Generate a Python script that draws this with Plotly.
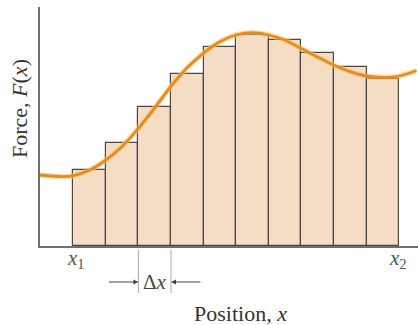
import plotly.graph_objects as go

# Bar (Riemann) heights, midpoint values for each strip of width Δx
bar_mid = [0.5, 1.5, 2.5, 3.5, 4.5, 5.5, 6.5, 7.5, 8.5, 9.5]
bar_height = [76, 102.7, 139.3, 172, 199.3, 211.3, 206, 193.3, 179.3, 167.3]

# Smooth force curve F(x)
curve_x = [-1.02, -0.31, 0.0, 0.51, 1.0, 1.49, 2.0, 2.49, 2.99, 3.48, 3.99, 4.5,
           4.99, 5.52, 5.99, 6.49, 6.99, 7.48, 7.99, 8.49, 8.99, 9.51, 9.92, 10.53]
curve_y = [71, 69.3, 70.3, 76, 86, 99.3, 117.7, 137.7, 159.3, 177.7, 192.7, 204.3,
           211, 213.3, 211, 206, 197.7, 189.3, 181, 174.3, 170, 168.7, 169.3, 175.3]

tick_labels = {"x1": 0.08, "x2": 9.96}
dx_left, dx_right = 2, 3

SERIF = "Liberation Serif, Times New Roman, serif"

fig = go.Figure()
fig.add_trace(go.Bar(
    x=bar_mid, y=bar_height, width=1,
    marker=dict(color="#F4DDC4", line=dict(color="#4a4747", width=1.2)),
    hoverinfo="skip", showlegend=False,
))
# glow under the curve
fig.add_trace(go.Scatter(
    x=curve_x, y=curve_y, mode="lines", line=dict(color="rgba(245,200,90,0.55)", width=5.5, shape="spline", smoothing=0.8),
    hoverinfo="skip", showlegend=False,
))
fig.add_trace(go.Scatter(
    x=curve_x, y=curve_y, mode="lines", line=dict(color="#E48A2A", width=2.8, shape="spline", smoothing=0.8),
    hoverinfo="skip", showlegend=False,
))

H = 239.0
def py(p):
    return (246 - p) / H

shapes = []
for xv in (dx_left, dx_right):
    shapes.append(dict(type="line", xref="x", yref="paper", x0=xv, x1=xv,
                       y0=py(250), y1=py(293), line=dict(color="#aaaaaa", width=1)))

annotations = [
    dict(x=tick_labels["x1"], y=py(259), xref="x", yref="paper", text="<i>x</i><sub>1</sub>",
         showarrow=False, font=dict(family=SERIF, size=21, color="#555"), yanchor="middle"),
    dict(x=tick_labels["x2"], y=py(259), xref="x", yref="paper", text="<i>x</i><sub>2</sub>",
         showarrow=False, font=dict(family=SERIF, size=21, color="#555"), yanchor="middle"),
    dict(x=(dx_left + dx_right) / 2, y=py(282), xref="x", yref="paper", text="Δ<i>x</i>",
         showarrow=False, font=dict(family=SERIF, size=21, color="#444"), yanchor="middle"),
    dict(x=dx_left, y=py(282), xref="x", yref="paper", ax=dx_left - 0.95, ay=0,
         axref="x", ayref="pixel", text="", showarrow=True, arrowhead=2, arrowsize=1,
         arrowwidth=1, arrowcolor="#444"),
    dict(x=dx_right, y=py(282), xref="x", yref="paper", ax=dx_right + 0.95, ay=0,
         axref="x", ayref="pixel", text="", showarrow=True, arrowhead=2, arrowsize=1,
         arrowwidth=1, arrowcolor="#444"),
    dict(x=(240 - 40) / 378, y=py(313), xref="paper", yref="paper", text="Position, <i>x</i>",
         showarrow=False, font=dict(family=SERIF, size=22, color="#333"), yanchor="middle"),
    dict(x=-21 / 378, y=py(109), xref="paper", yref="paper", text="Force, <i>F</i>(<i>x</i>)",
         showarrow=False, textangle=-90, font=dict(family=SERIF, size=22, color="#333"),
         xanchor="center", yanchor="middle"),
]

fig.update_layout(
    width=418, height=325,
    margin=dict(l=40, r=0, t=7, b=79),
    paper_bgcolor="white", plot_bgcolor="white",
    bargap=0,
    shapes=shapes, annotations=annotations,
    xaxis=dict(range=[-1.02, 10.58], showgrid=False, zeroline=False, showticklabels=False,
               ticks="", showline=True, linecolor="#6f6f6f", linewidth=1.5, fixedrange=True),
    yaxis=dict(range=[0, 239], showgrid=False, zeroline=False, showticklabels=False,
               ticks="", showline=True, linecolor="#6f6f6f", linewidth=1.5, fixedrange=True),
)

fig.write_html("out.html", config={"displayModeBar": False},
               post_script="document.body.style.margin='0';document.body.style.overflow='hidden';")
